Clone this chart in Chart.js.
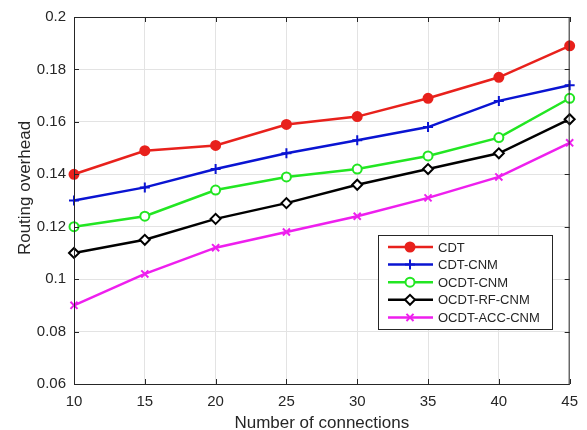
<!DOCTYPE html>
<html>
<head>
<meta charset="utf-8">
<script src="https://cdn.jsdelivr.net/npm/chart.js@4"></script>
<style>
  body { margin: 0; background: #fff; }
</style>
</head>
<body>
<canvas id="chart" width="587" height="430"></canvas>
<script>
// data
const connections = [10, 15, 20, 25, 30, 35, 40, 45];
const cdt        = [0.140, 0.149, 0.151, 0.159, 0.162, 0.169, 0.177, 0.189];
const cdtCnm     = [0.130, 0.135, 0.142, 0.148, 0.153, 0.158, 0.168, 0.174];
const ocdtCnm    = [0.120, 0.124, 0.134, 0.139, 0.142, 0.147, 0.154, 0.169];
const ocdtRfCnm  = [0.110, 0.115, 0.123, 0.129, 0.136, 0.142, 0.148, 0.161];
const ocdtAccCnm = [0.090, 0.102, 0.112, 0.118, 0.124, 0.131, 0.139, 0.152];
const xTicks = [10, 15, 20, 25, 30, 35, 40, 45];
const yTicks = [0.06, 0.08, 0.1, 0.12, 0.14, 0.16, 0.18, 0.2];

const FONT = '"Liberation Sans", Arial, sans-serif';
const AXIS = '#262626';
// where the axes box sits in the reference
const AREA = { left: 74, top: 15, right: 575, bottom: 384 };

function series(label, values, color, style, fill, radius) {
    return {
        label: label,
        data: values.map((v, i) => ({ x: connections[i], y: v })),
        borderColor: color,
        backgroundColor: color,
        borderWidth: 2.5,
        pointStyle: style,
        pointRadius: radius,
        pointBorderWidth: 2,
        pointBorderColor: color,
        pointBackgroundColor: fill,
        clip: false,
        tension: 0
    };
}

// box round the axes, inward ticks, axis titles, legend inside the plot
const matlabLook = {
    id: 'matlabLook',
    afterDraw(chart) {
        const ctx = chart.ctx;
        const a = chart.chartArea;
        const xs = chart.scales.x, ys = chart.scales.y;
        ctx.save();
        ctx.strokeStyle = AXIS;
        ctx.lineWidth = 1;
        ctx.strokeRect(a.left + 0.5, a.top + 0.5, a.right - a.left - 1, a.bottom - a.top);
        ctx.beginPath();
        xTicks.forEach(t => {
            const px = Math.round(xs.getPixelForValue(t)) + 0.5;
            ctx.moveTo(px, a.bottom); ctx.lineTo(px, a.bottom - 5);
            ctx.moveTo(px, a.top); ctx.lineTo(px, a.top + 5);
        });
        yTicks.forEach(t => {
            const py = Math.round(ys.getPixelForValue(t)) + 0.5;
            ctx.moveTo(a.left, py); ctx.lineTo(a.left + 5, py);
            ctx.moveTo(a.right, py); ctx.lineTo(a.right - 5, py);
        });
        ctx.stroke();

        // axis titles
        ctx.fillStyle = AXIS;
        ctx.font = '17px ' + FONT;
        ctx.textAlign = 'center';
        ctx.textBaseline = 'middle';
        ctx.fillText('Number of connections', (a.left + a.right) / 2, 423);
        ctx.save();
        ctx.translate(25, 188);
        ctx.rotate(-Math.PI / 2);
        ctx.fillText('Routing overhead', 0, 0);
        ctx.restore();

        // legend
        const bx = 378, by = 235, bw = 174, bh = 94, row = 17.6;
        ctx.fillStyle = '#fff';
        ctx.fillRect(bx, by, bw, bh);
        ctx.strokeStyle = AXIS;
        ctx.strokeRect(bx + 0.5, by + 0.5, bw, bh);
        ctx.font = '13px ' + FONT;
        ctx.textAlign = 'left';
        chart.data.datasets.forEach((ds, i) => {
            const y = by + 12 + i * row;
            ctx.strokeStyle = ds.borderColor;
            ctx.lineWidth = 2.5;
            ctx.beginPath();
            ctx.moveTo(bx + 10, y); ctx.lineTo(bx + 55, y);
            ctx.stroke();
            ctx.fillStyle = ds.pointBackgroundColor;
            ctx.lineWidth = 2;
            Chart.helpers.drawPoint(ctx, {
                pointStyle: ds.pointStyle, radius: ds.pointRadius,
                rotation: 0, borderWidth: 2
            }, bx + 32, y);
            ctx.fillStyle = AXIS;
            ctx.fillText(ds.label, bx + 60, y + 1);
        });
        ctx.restore();
    }
};

const chart = new Chart(document.getElementById('chart'), {
    type: 'line',
    data: {
        datasets: [
            series('CDT', cdt, '#e8211c', 'circle', '#e8211c', 4.5),
            series('CDT-CNM', cdtCnm, '#0a14d2', 'cross', '#0a14d2', 5),
            series('OCDT-CNM', ocdtCnm, '#22e622', 'circle', '#fff', 4.5),
            series('OCDT-RF-CNM', ocdtRfCnm, '#000000', 'rectRot', '#fff', 5),
            series('OCDT-ACC-CNM', ocdtAccCnm, '#ee1fee', 'crossRot', '#ee1fee', 5)
        ]
    },
    options: {
        responsive: false,
        animation: false,
        layout: { padding: { top: 15, right: 12, left: 0, bottom: 0 } },
        plugins: { legend: { display: false }, tooltip: { enabled: false } },
        scales: {
            x: {
                type: 'linear',
                min: 10, max: 45,
                afterBuildTicks: s => { s.ticks = xTicks.map(v => ({ value: v })); },
                afterFit: s => { s.height = 46; },
                grid: { color: '#e3e3e3', drawTicks: false },
                border: { display: false },
                ticks: { color: AXIS, padding: 9, font: { family: FONT, size: 15 } }
            },
            y: {
                min: 0.06, max: 0.2,
                afterBuildTicks: s => { s.ticks = yTicks.map(v => ({ value: v })); },
                afterFit: s => { s.width = 74; },
                grid: { color: '#e3e3e3', drawTicks: false },
                border: { display: false },
                ticks: {
                    color: AXIS, padding: 8, font: { family: FONT, size: 15 },
                    callback: v => String(parseFloat(v.toFixed(2)))
                }
            }
        }
    },
    plugins: [matlabLook]
});

// nudge the layout padding so the plot box lands where it is in the figure
const pad = chart.options.layout.padding;
pad.right += AREA.right - chart.chartArea.right;
pad.top += AREA.top - chart.chartArea.top;
pad.left += AREA.left - chart.chartArea.left;
pad.bottom += chart.chartArea.bottom - AREA.bottom;
chart.update();
</script>
</body>
</html>
